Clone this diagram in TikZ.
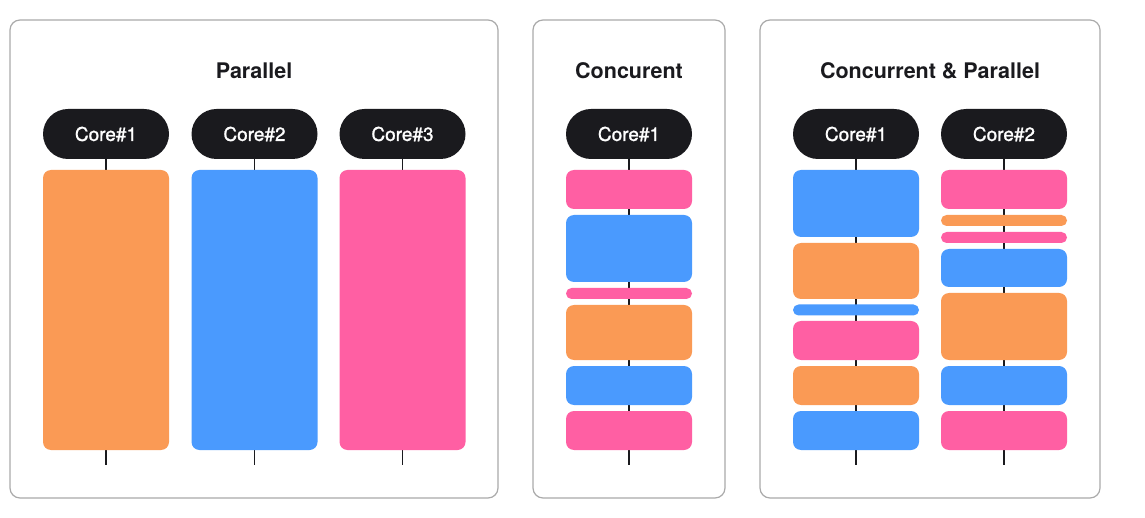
\documentclass[tikz,border=0pt]{standalone}
\usepackage{fontspec}
\setmainfont{TeX Gyre Heros}
\newfontfamily\corefont[FakeBold=1.2]{TeX Gyre Heros}
\usepackage{tikz}

\definecolor{corebg}{HTML}{1A1A1E}
\definecolor{frame}{HTML}{AAAAAA}
\definecolor{taskorange}{HTML}{FA9A55}
\definecolor{taskblue}{HTML}{4A9AFE}
\definecolor{taskpink}{HTML}{FF5FA3}

\begin{document}
\begin{tikzpicture}[x = 1pt, y = -1pt, every node/.append style={inner sep = 0pt, outer sep = 0pt},
  panel/.style={draw = frame, line width = 1.2pt, fill = white, rounded corners = 10pt},
  title/.style={font = \bfseries\fontsize{21.5}{24}\selectfont, text = corebg},
  core/.style={fill = corebg, text = white, rounded corners = 25pt, minimum width = 126pt, minimum height = 50pt, font = \corefont\fontsize{19}{22}\selectfont},
  task/.style={rounded corners = 8pt, minimum width = 126pt},
  slice/.style={rounded corners = 5.5pt, minimum width = 126pt, minimum height = 11pt},
  timeline/.style={draw = corebg, line width = 1.2pt}]

  \useasboundingbox (0, 0) rectangle (1145, 518);

  % Parallel
  \node [panel, minimum width = 488pt, minimum height = 478pt] (par) at (254, 259) {};
  \node [title] (tpar) at (254, 71) {Parallel};

  \node [core] (pc1) at (106, 134) {Core\#1};
  \node [core] (pc2) at (254.5, 134) {Core\#2};
  \node [core] (pc3) at (402.5, 134) {Core\#3};

  \coordinate (pe1) at (106, 465);
  \coordinate (pe2) at (254.5, 465);
  \coordinate (pe3) at (402.5, 465);
  \draw [timeline] (pc1.south) -- (pe1);
  \draw [timeline] (pc2.south) -- (pe2);
  \draw [timeline] (pc3.south) -- (pe3);

  \node [task, fill = taskorange, minimum height = 280pt] (pt1) at (106, 310) {};
  \node [task, fill = taskblue, minimum height = 280pt] (pt2) at (254.5, 310) {};
  \node [task, fill = taskpink, minimum height = 280pt] (pt3) at (402.5, 310) {};

  % Concurent
  \node [panel, minimum width = 192pt, minimum height = 478pt] (con) at (629, 259) {};
  \node [title] (tcon) at (629, 71) {Concurent};

  \node [core] (cc1) at (629, 134) {Core\#1};
  \coordinate (ce1) at (629, 465);
  \draw [timeline] (cc1.south) -- (ce1);

  \node [task, fill = taskpink, minimum height = 39pt] (ct1) at (629, 189.5) {};
  \node [task, fill = taskblue, minimum height = 67pt] (ct2) at (629, 248.5) {};
  \node [slice, fill = taskpink] (ct3) at (629, 293.5) {};
  \node [task, fill = taskorange, minimum height = 55pt] (ct4) at (629, 332.5) {};
  \node [task, fill = taskblue, minimum height = 39pt] (ct5) at (629, 385.5) {};
  \node [task, fill = taskpink, minimum height = 39pt] (ct6) at (629, 430.5) {};

  % Concurrent & Parallel
  \node [panel, minimum width = 340pt, minimum height = 478pt] (cp) at (930, 259) {};
  \node [title] (tcp) at (930, 71) {Concurrent \& Parallel};

  \node [core] (cpc1) at (856, 134) {Core\#1};
  \node [core] (cpc2) at (1004, 134) {Core\#2};
  \coordinate (cpe1) at (856, 465);
  \coordinate (cpe2) at (1004, 465);
  \draw [timeline] (cpc1.south) -- (cpe1);
  \draw [timeline] (cpc2.south) -- (cpe2);

  \node [task, fill = taskblue, minimum height = 67pt] (cpa1) at (856, 203.5) {};
  \node [task, fill = taskorange, minimum height = 56pt] (cpa2) at (856, 271) {};
  \node [slice, fill = taskblue] (cpa3) at (856, 310) {};
  \node [task, fill = taskpink, minimum height = 39pt] (cpa4) at (856, 340.5) {};
  \node [task, fill = taskorange, minimum height = 39pt] (cpa5) at (856, 385.5) {};
  \node [task, fill = taskblue, minimum height = 39pt] (cpa6) at (856, 430.5) {};

  \node [task, fill = taskpink, minimum height = 39pt] (cpb1) at (1004, 189.5) {};
  \node [slice, fill = taskorange] (cpb2) at (1004, 220.5) {};
  \node [slice, fill = taskpink] (cpb3) at (1004, 237.5) {};
  \node [task, fill = taskblue, minimum height = 38pt] (cpb4) at (1004, 268) {};
  \node [task, fill = taskorange, minimum height = 67pt] (cpb5) at (1004, 326.5) {};
  \node [task, fill = taskblue, minimum height = 39pt] (cpb6) at (1004, 385.5) {};
  \node [task, fill = taskpink, minimum height = 39pt] (cpb7) at (1004, 430.5) {};

\end{tikzpicture}
\end{document}
